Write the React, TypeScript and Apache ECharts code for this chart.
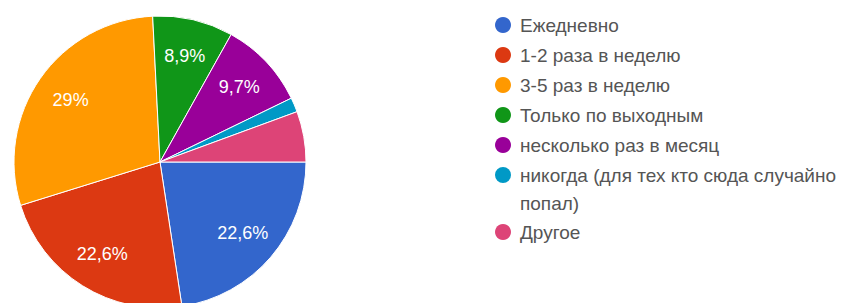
import React, { useEffect, useRef } from "react";
import * as echarts from "echarts";

const categories = [
  "Ежедневно",
  "1-2 раза в неделю",
  "3-5 раз в неделю",
  "Только по выходным",
  "несколько раз в месяц",
  "никогда (для тех кто сюда случайно попал)",
  "Другое",
];
const shares = [22.6, 22.6, 29, 8.9, 9.7, 1.6, 5.6];
const colors = ["#3366CC", "#DC3912", "#FF9900", "#109618", "#990099", "#0099C6", "#DD4477"];
const wrappedNames: Record<string, string> = {
  "никогда (для тех кто сюда случайно попал)": "никогда (для тех кто сюда случайно\nпопал)",
};

const FONT = "'Liberation Sans', Arial, sans-serif";
// circle at the top of a tall icon box, so it lines up with the first text line
const TALL_DOT = "path://M8,0 A8,8 0 1,1 8,16 A8,8 0 1,1 8,0 Z M8,44 L8,44";

function fmtPercent(p: number): string {
  const r = Math.round(p * 10) / 10;
  const s = Number.isInteger(r) ? String(r) : r.toFixed(1);
  return s.replace(".", ",") + "%";
}

export default function App() {
  const ref = useRef<HTMLDivElement>(null);
  useEffect(() => {
    if (!ref.current) return;
    const chart = echarts.init(ref.current, undefined, { renderer: "svg" });
    const data = categories.map((name, i) => ({
      name,
      value: shares[i],
      itemStyle: { color: colors[i] },
    }));
    const legendBase = {
      orient: "vertical",
      left: 495,
      padding: 0,
      itemWidth: 24,
      itemHeight: 16,
      itemGap: 2,
      icon: "circle",
      selectedMode: false,
      textStyle: {
        fontFamily: FONT,
        fontSize: 19,
        color: "#555555",
        lineHeight: 28,
      },
      formatter: (name: string) => wrappedNames[name] ?? name,
    };
    const legendItems = (idx: number[]) =>
      idx.map((i) => ({ name: categories[i], itemStyle: { color: colors[i], borderWidth: 0 } }));
    chart.setOption({
      animation: false,
      backgroundColor: "#ffffff",
      legend: [
        { ...legendBase, top: 11, data: legendItems([0, 1, 2, 3, 4]) },
        {
          ...legendBase,
          top: 161,
          itemHeight: 44,
          icon: TALL_DOT,
          data: legendItems([5]),
        },
        { ...legendBase, top: 218, data: legendItems([6]) },
      ],
      series: [
        {
          type: "pie",
          center: [160, 162],
          radius: [0, 146],
          startAngle: 0,
          clockwise: true,
          label: { show: false },
          labelLine: { show: false },
          itemStyle: { borderColor: "#ffffff", borderWidth: 1 },
          emphasis: { disabled: true },
          data,
        },
        {
          type: "pie",
          center: [160, 162],
          radius: [66, 146],
          startAngle: 0,
          clockwise: true,
          silent: true,
          minShowLabelAngle: 25,
          itemStyle: { color: "rgba(0,0,0,0)", borderWidth: 0 },
          label: {
            show: true,
            position: "inside",
            color: "#ffffff",
            fontFamily: FONT,
            fontSize: 18,
            formatter: (p: any) => fmtPercent(p.percent),
          },
          labelLine: { show: false },
          emphasis: { disabled: true },
          data: categories.map((name, i) => ({
            name,
            value: shares[i],
            itemStyle: { color: "rgba(0,0,0,0)" },
          })),
        },
      ],
    });
    return () => chart.dispose();
  }, []);
  return (
    <div
      ref={ref}
      style={{ position: "absolute", left: 0, top: 0, width: 843, height: 303 }}
    />
  );
}
